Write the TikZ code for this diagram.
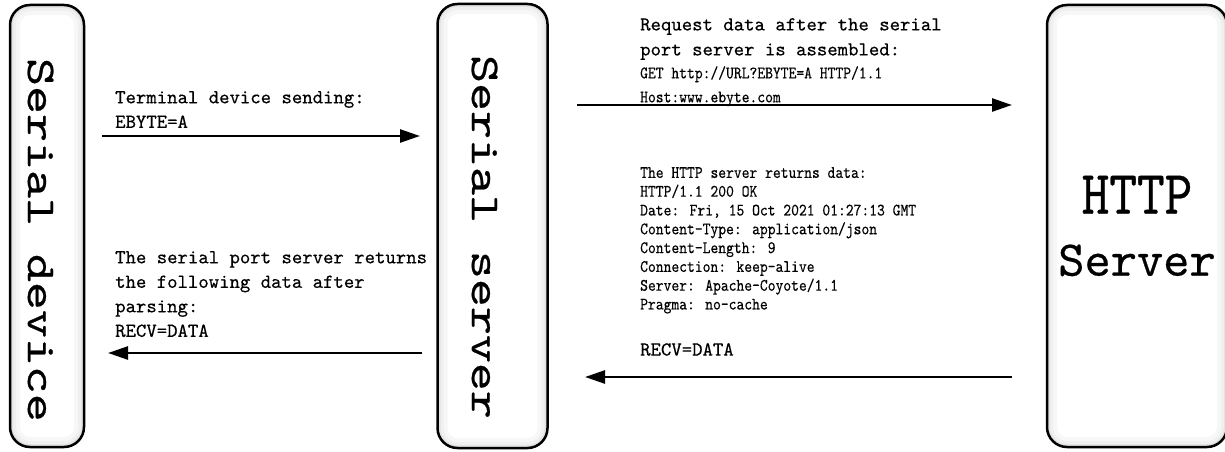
\documentclass[tikz,border=0pt]{standalone}
\usepackage{fontspec}
\newfontfamily\monotext[FakeBold=0.4]{lmmono10-regular.otf}
\newfontfamily\monowide[FakeStretch=1.3, FakeBold=0.6]{lmmono10-regular.otf}
\newfontfamily\monobig[FakeBold=0.5]{lmmono10-regular.otf}
\newfontfamily\mononarrow[FakeStretch=0.85, FakeBold=0.3]{lmmono10-regular.otf}
\newfontfamily\monotall[FakeStretch=0.85, FakeBold=0.5]{lmmono10-regular.otf}
\usetikzlibrary{arrows.meta, positioning}
\tikzstyle{unit} = [rectangle,
			draw,
			line width = 2.5pt,
			rounded corners = 20pt,
			fill = white,
			path picture = {
				\draw [black!3, line width = 20pt, rounded corners = 20pt, xshift = -1.5pt]
					(path picture bounding box.south west) rectangle (path picture bounding box.north east);
				\draw [black!6, line width = 12pt, rounded corners = 20pt, xshift = -1.5pt]
					(path picture bounding box.south west) rectangle (path picture bounding box.north east);
				\draw [black!11, line width = 6pt, rounded corners = 20pt, xshift = -1pt]
					(path picture bounding box.south west) rectangle (path picture bounding box.north east);
			}]
\tikzstyle{vlabel} = [rotate = -90,
			font = \monowide\fontsize{41}{41}\selectfont]
\tikzstyle{note} = [anchor = north west,
			inner sep = 0pt,
			align = left,
			font = \monotext\fontsize{19.8}{24.5}\selectfont]
\tikzstyle{code} = [note,
			font = \mononarrow\fontsize{17.5}{18.8}\selectfont]
\tikzstyle{line} = [draw, line width = 2.5pt, -{Triangle[length=20pt, width=13pt]}]

\begin{document}
\begin{tikzpicture}[x=1pt, y=-1pt]
	\useasboundingbox (0,0) rectangle (1225,452);
	\node [unit, minimum width = 74pt, minimum height = 442pt] (dev) at (47,226) {};
	\node [unit, right = 351pt of dev, minimum width = 110pt, minimum height = 444pt] (ser) {};
	\node [unit, right = 497pt of ser, minimum width = 180pt, minimum height = 442pt,
		align = center, font = \monobig\fontsize{50}{62}\selectfont] (http) {{\monotall\fontsize{62}{62}\selectfont HTTP}\\Server};
	\node [vlabel] (dev-name) at ([xshift = -6.5pt, yshift = -14pt]dev.center) {Serial device};
	\node [vlabel] (ser-name) at ([xshift = -8pt, yshift = -11pt]ser.center) {Serial server};
	% serial device <-> serial server
	\coordinate (send-a) at (102,136);
	\coordinate (send-b) at (420,136);
	\coordinate (reply-a) at (422,353);
	\coordinate (reply-b) at (108,353);
	\path [line] (send-a) -- (send-b);
	\path [line] (reply-a) -- (reply-b);
	\node [note] (send) at (115,91) {Terminal device sending:\\EBYTE=A};
	\node [note] (reply) at (115,251) {The serial port server returns\\the following data after\\parsing:\\RECV=DATA};
	% serial server <-> http server
	\coordinate (req-a) at (577,105);
	\coordinate (req-b) at (1012,105);
	\coordinate (resp-a) at (1012,377);
	\coordinate (resp-b) at (585,377);
	\path [line] (req-a) -- (req-b);
	\path [line] (resp-a) -- (resp-b);
	\node [note, font = \monotext\fontsize{19.8}{25}\selectfont] (req) at (640,18) {Request data after the serial\\port server is assembled:};
	\node [code, font = \mononarrow\fontsize{17.5}{24}\selectfont] (req-http) at (640,66) {GET http://URL?EBYTE=A HTTP/1.1\\Host:www.ebyte.com};
	\node [code] (resp) at (640,167) {The HTTP server returns data:\\HTTP/1.1 200 OK\\Date: Fri, 15 Oct 2021 01:27:13 GMT\\Content-Type: application/json\\Content-Length: 9\\Connection: keep-alive\\Server: Apache-Coyote/1.1\\Pragma: no-cache};
	\node [note] (resp-data) at (640,343) {RECV=DATA};
\end{tikzpicture}
\end{document}
